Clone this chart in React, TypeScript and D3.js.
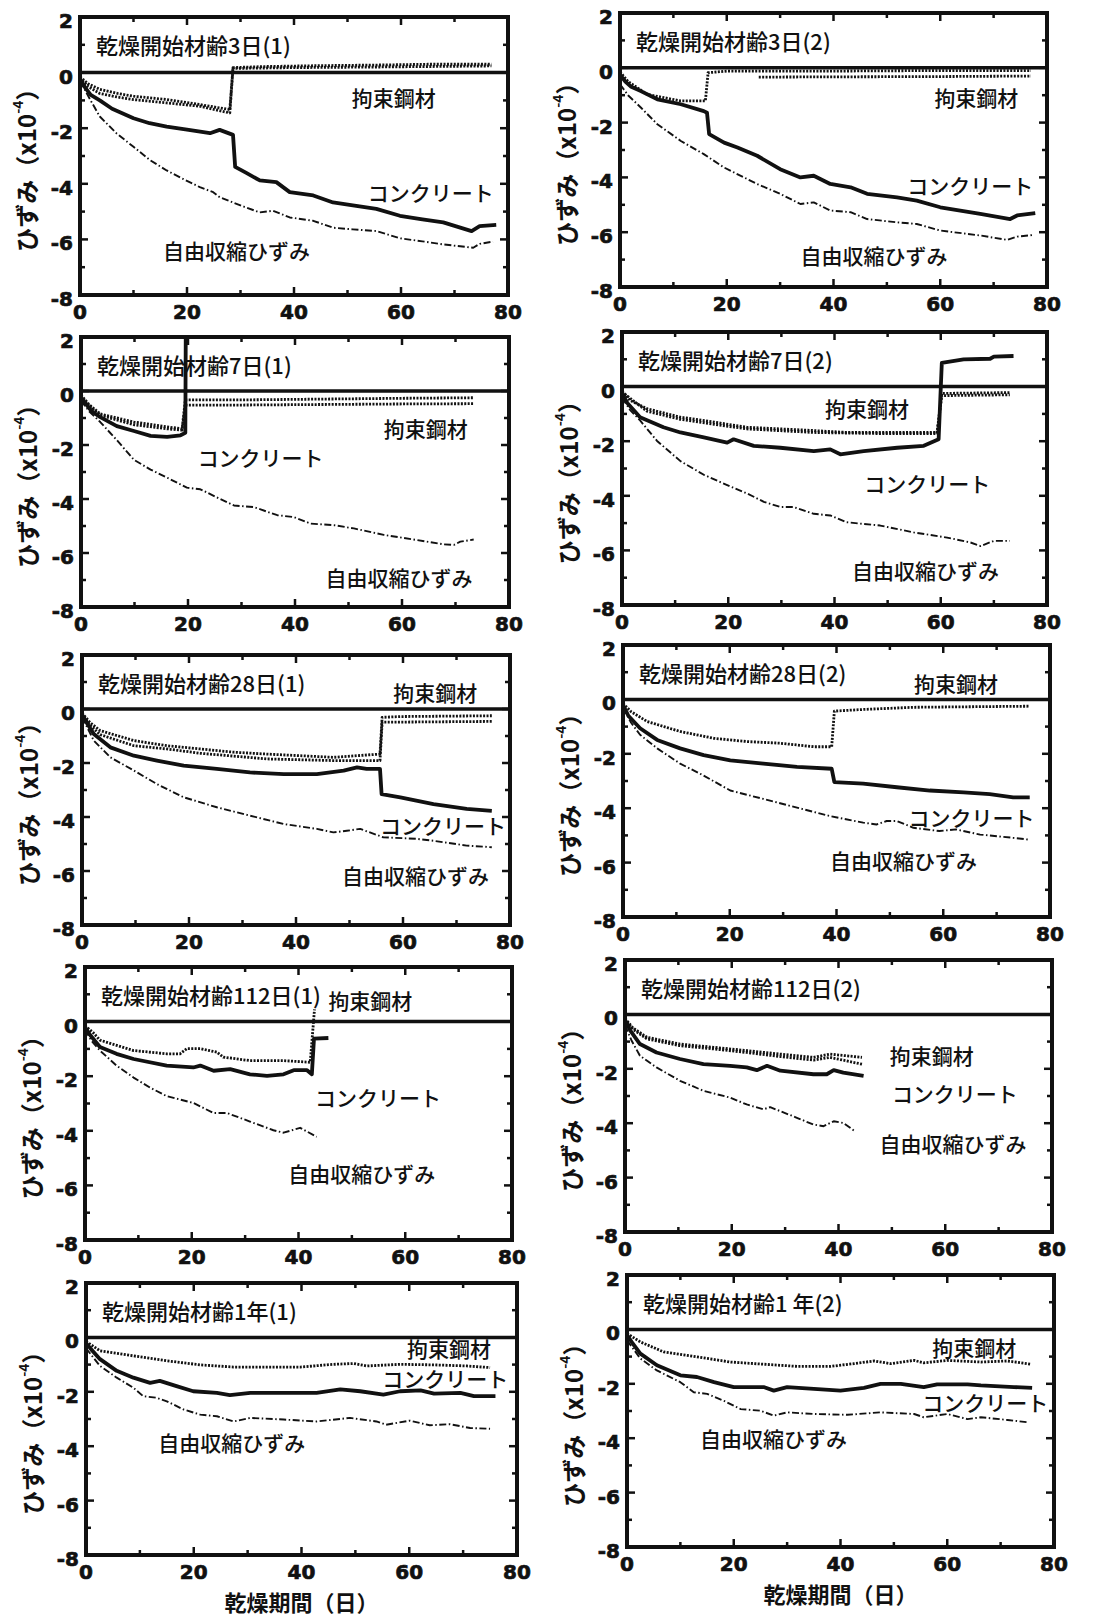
import * as d3 from 'd3';
import React from 'react';

type Pt = [number, number];

// ---- data (day, strain x10^-4) ----
const titles = [
  '乾燥開始材齢3日(1)', '乾燥開始材齢3日(2)',
  '乾燥開始材齢7日(1)', '乾燥開始材齢7日(2)',
  '乾燥開始材齢28日(1)', '乾燥開始材齢28日(2)',
  '乾燥開始材齢112日(1)', '乾燥開始材齢112日(2)',
  '乾燥開始材齢1年(1)', '乾燥開始材齢1 年(2)',
];
const seriesNames = ['拘束鋼材', 'コンクリート', '自由収縮ひずみ'];
const xTicks = [0, 20, 40, 60, 80];
const xMinor = [10, 30, 50, 70];
const yTicks = [-8, -6, -4, -2, 0, 2];
const yMinor = [-7, -5, -3, -1, 1];
const yLabel = 'ひずみ（x10';
const xLabel = '乾燥期間（日）';

// 3日(1)
const p1Concrete: Pt[] = [[0,-0.25],[1,-0.55],[2,-0.8],[3.7,-1.0],[6,-1.3],[10,-1.64],[13,-1.82],[16.2,-1.94],[20,-2.05],[24.3,-2.18],[26.1,-2.06],[28.6,-2.24],[29,-3.39],[31,-3.6],[33.6,-3.88],[36.7,-3.94],[39.2,-4.3],[43.6,-4.42],[47.3,-4.67],[51,-4.78],[55.4,-4.9],[59.8,-5.15],[64,-5.28],[67.9,-5.39],[73.2,-5.7],[74.7,-5.52],[77.8,-5.48]];
const p1Free: Pt[] = [[0,-0.3],[1.9,-0.97],[3.7,-1.58],[6.8,-2.18],[10,-2.67],[13.1,-3.15],[16.2,-3.52],[19,-3.8],[22.4,-4.12],[24.9,-4.3],[26.1,-4.48],[28.6,-4.67],[31,-4.85],[33.6,-5.03],[36.1,-4.97],[39.2,-5.21],[43.6,-5.33],[47.3,-5.58],[51,-5.64],[55.4,-5.7],[59.8,-5.96],[64,-6.07],[67.9,-6.18],[73.5,-6.3],[74.7,-6.16],[77.2,-6.08]];
const p1SteelA: Pt[] = [[0,-0.15],[1.5,-0.4],[3.7,-0.6],[7,-0.75],[10,-0.85],[16.2,-0.97],[22.4,-1.15],[28,-1.33],[28.6,0.18],[35,0.22],[45,0.25],[55,0.27],[65,0.3],[76.9,0.3]];
const p1SteelB: Pt[] = [[0,-0.2],[1.5,-0.5],[3.7,-0.75],[7,-0.88],[10,-0.97],[16.2,-1.09],[22.4,-1.21],[28,-1.45],[28.6,0.15],[40,0.18],[55,0.2],[76.9,0.24]];

// 3日(2)
const p2Concrete: Pt[] = [[0,-0.25],[1,-0.5],[2,-0.68],[3.9,-0.85],[7,-1.15],[11.4,-1.33],[15.7,-1.58],[16.3,-1.64],[16.7,-2.42],[19.5,-2.73],[22,-2.91],[25.7,-3.21],[30,-3.7],[33.8,-4.0],[36.3,-3.94],[39.4,-4.24],[43.2,-4.36],[46.3,-4.6],[51.9,-4.73],[55.6,-4.85],[60,-5.09],[67.5,-5.33],[73.1,-5.52],[74.4,-5.39],[77.8,-5.3]];
const p2Free: Pt[] = [[0,-0.6],[1.5,-1.0],[3.9,-1.45],[7,-2.06],[11.4,-2.67],[15.7,-3.15],[19.5,-3.64],[25.7,-4.24],[30,-4.6],[33.8,-4.97],[36.3,-4.91],[39.4,-5.21],[43.2,-5.27],[46.3,-5.52],[51.9,-5.64],[55.6,-5.7],[60,-5.94],[67.5,-6.12],[72.5,-6.28],[74.4,-6.16],[77.5,-6.1]];
const p2SteelA: Pt[] = [[0,-0.15],[1.5,-0.5],[5.1,-0.97],[11.4,-1.21],[16,-1.21],[16.5,-0.18],[20,-0.12],[26,-0.12],[40,-0.12],[60,-0.1],[77,-0.1]];
const p2SteelB: Pt[] = [[26,-0.34],[40,-0.33],[60,-0.32],[77,-0.3]];

// 7日(1)
const p3Concrete: Pt[] = [[0,-0.25],[1,-0.5],[2,-0.75],[3.6,-0.97],[6.7,-1.3],[9.9,-1.48],[13,-1.66],[16.1,-1.7],[18.6,-1.64],[19.5,-1.55],[19.6,3]];
const p3Free: Pt[] = [[0,-0.35],[1.5,-0.75],[3.6,-1.15],[6.7,-1.82],[9.9,-2.55],[13,-2.91],[16.1,-3.21],[19.8,-3.58],[22.3,-3.64],[25.4,-3.94],[28.6,-4.24],[32.3,-4.3],[36.7,-4.6],[39.8,-4.67],[42.9,-4.91],[47.3,-4.97],[51,-5.09],[56.6,-5.33],[62.8,-5.52],[67.8,-5.68],[69.7,-5.7],[70.9,-5.58],[73.4,-5.5]];
const p3SteelA: Pt[] = [[0,-0.15],[1.5,-0.5],[3.6,-0.85],[9.9,-1.15],[16.1,-1.33],[18.9,-1.4],[19.5,-0.33],[30,-0.33],[45,-0.3],[60,-0.27],[73.4,-0.25]];
const p3SteelB: Pt[] = [[0,-0.2],[1.5,-0.55],[3.6,-0.9],[9.9,-1.25],[16.1,-1.4],[18.9,-1.45],[19.5,-0.52],[30,-0.52],[45,-0.5],[60,-0.48],[73.4,-0.47]];

// 7日(2)
const p4Concrete: Pt[] = [[0,-0.25],[1,-0.6],[3.4,-1.12],[7.8,-1.49],[11,-1.68],[15.4,-1.86],[19.8,-2.05],[21,-1.93],[24.8,-2.17],[29.8,-2.24],[36.1,-2.36],[39.2,-2.3],[41.1,-2.48],[45.5,-2.36],[51.8,-2.24],[56.8,-2.17],[59.6,-1.93],[60.2,0.87],[64.3,1.0],[69.3,1.02],[70,1.1],[73.7,1.12]];
const p4Free: Pt[] = [[0,-0.4],[1.5,-0.85],[3.4,-1.24],[6.6,-1.99],[11,-2.73],[15.4,-3.23],[20.4,-3.66],[23.5,-3.91],[26.7,-4.22],[29.8,-4.41],[32.3,-4.41],[36.1,-4.66],[39.2,-4.72],[42.3,-4.97],[48.6,-5.09],[54.9,-5.34],[61.2,-5.53],[65.6,-5.71],[67.5,-5.84],[70,-5.65],[73,-5.65]];
const p4SteelA: Pt[] = [[0,-0.15],[1.5,-0.5],[4.7,-0.81],[11,-1.12],[17.3,-1.3],[23.5,-1.49],[29.8,-1.55],[36.1,-1.61],[42.3,-1.68],[48.6,-1.68],[59.3,-1.68],[60.2,-0.25],[73,-0.22]];
const p4SteelB: Pt[] = [[0,-0.2],[4.7,-0.9],[11,-1.2],[17.3,-1.38],[23.5,-1.55],[36.1,-1.68],[48.6,-1.72],[59.3,-1.72],[60.2,-0.33],[73,-0.3]];

// 28日(1)
const p5Concrete: Pt[] = [[0,-0.2],[1,-0.55],[2.2,-0.93],[5.3,-1.42],[9.7,-1.73],[14,-1.91],[19,-2.1],[25.2,-2.22],[31.4,-2.35],[37.7,-2.41],[43.9,-2.41],[48.9,-2.28],[51.4,-2.16],[53.2,-2.22],[55.7,-2.22],[56,-3.15],[59.5,-3.27],[65.7,-3.52],[71.9,-3.7],[76.6,-3.77]];
const p5Free: Pt[] = [[0,-0.3],[2.2,-1.17],[5.3,-1.79],[9.7,-2.28],[14,-2.78],[19,-3.27],[25.2,-3.64],[31.4,-3.95],[37.7,-4.26],[43.9,-4.44],[47,-4.57],[49.5,-4.51],[52,-4.44],[56.3,-4.75],[62.6,-4.81],[65.7,-4.88],[71.9,-5.06],[76.6,-5.12]];
const p5SteelA: Pt[] = [[0,-0.15],[1.5,-0.5],[3.4,-0.8],[9.7,-1.17],[15.9,-1.36],[22.1,-1.48],[28.3,-1.6],[34.6,-1.67],[40.8,-1.73],[47,-1.79],[55.7,-1.67],[56.1,-0.31],[59.5,-0.28],[76.6,-0.25]];
const p5SteelB: Pt[] = [[0,-0.2],[1.5,-0.6],[3.4,-0.95],[9.7,-1.36],[15.9,-1.48],[22.1,-1.64],[34.6,-1.85],[47,-1.91],[55.7,-1.91],[56.1,-0.49],[76.6,-0.46]];

// 28日(2)
const p6Concrete: Pt[] = [[0,-0.2],[1,-0.6],[3.2,-1.06],[6.4,-1.49],[10.7,-1.8],[15.1,-2.05],[20.1,-2.24],[26.3,-2.36],[32.6,-2.48],[39.1,-2.55],[39.6,-3.04],[45,-3.1],[51.3,-3.23],[57.5,-3.35],[63.8,-3.42],[68.7,-3.48],[73.1,-3.6],[76.2,-3.6]];
const p6Free: Pt[] = [[0,-0.3],[1.5,-0.85],[3.2,-1.3],[6.4,-1.8],[10.7,-2.36],[15.1,-2.8],[20.1,-3.35],[26.3,-3.66],[32.6,-3.98],[38.8,-4.29],[45,-4.53],[47.5,-4.6],[49.4,-4.47],[51.3,-4.47],[54.4,-4.72],[59.3,-4.84],[62.4,-4.78],[66.9,-4.97],[73.1,-5.09],[76.2,-5.16]];
const p6Steel: Pt[] = [[0,-0.15],[1.5,-0.45],[4.5,-0.81],[10.7,-1.18],[17,-1.43],[23.2,-1.55],[29.4,-1.61],[35.7,-1.74],[39.1,-1.74],[39.6,-0.43],[45,-0.37],[54.4,-0.29],[76.2,-0.25]];

// 112日(1)
const p7Concrete: Pt[] = [[0,-0.2],[1,-0.5],[2.8,-0.93],[5.9,-1.18],[9.1,-1.37],[15.3,-1.61],[20.3,-1.68],[21.6,-1.61],[24.1,-1.8],[27.2,-1.74],[30.9,-1.93],[34.1,-1.99],[37.2,-1.93],[39.1,-1.78],[41.6,-1.78],[42.5,-1.93],[42.9,-0.62],[45.6,-0.6]];
const p7Free: Pt[] = [[0,-0.3],[1.2,-0.7],[2.8,-1.06],[5.9,-1.61],[9.1,-2.05],[12.2,-2.42],[15.3,-2.73],[20.3,-2.98],[24.1,-3.35],[26.6,-3.35],[30.9,-3.66],[35.3,-3.98],[37.2,-4.07],[40.3,-3.89],[43.4,-4.22]];
const p7Steel: Pt[] = [[0,-0.15],[1.5,-0.4],[2.8,-0.68],[9.1,-1.06],[15.3,-1.18],[17.8,-1.18],[19.1,-0.99],[21.6,-0.99],[24.7,-1.12],[25.9,-1.3],[30.9,-1.43],[37.2,-1.43],[42.2,-1.49],[43,0.45]];

// 112日(2)
const p8Concrete: Pt[] = [[0,-0.2],[1,-0.6],[2.8,-1.09],[5.9,-1.4],[10.3,-1.64],[14.7,-1.83],[19.7,-1.89],[22.8,-1.95],[24.7,-2.05],[26.6,-1.89],[29.1,-2.07],[35.3,-2.2],[37.8,-2.2],[39.1,-2.05],[40.9,-2.14],[44.7,-2.26]];
const p8Free: Pt[] = [[0,-0.4],[1.2,-0.95],[2.8,-1.52],[5.9,-1.95],[10.3,-2.44],[14.7,-2.81],[19.7,-3.06],[22.8,-3.31],[25.9,-3.49],[27.2,-3.41],[32.2,-3.8],[35.3,-4.05],[37.2,-4.11],[39.1,-3.93],[40.9,-3.99],[43.1,-4.3]];
const p8SteelA: Pt[] = [[0,-0.15],[1.5,-0.5],[4.1,-0.84],[10.3,-1.09],[16.6,-1.21],[22.8,-1.33],[29.1,-1.46],[35.3,-1.58],[38.4,-1.46],[44.4,-1.58]];
const p8SteelB: Pt[] = [[0,-0.2],[1.5,-0.55],[4.1,-0.9],[10.3,-1.15],[16.6,-1.27],[22.8,-1.4],[29.1,-1.55],[35.3,-1.68],[38.4,-1.58],[44.4,-1.83]];

// 1年(1)
const p9Concrete: Pt[] = [[0,-0.2],[1,-0.45],[2.6,-0.8],[5.7,-1.23],[8.8,-1.48],[11.9,-1.67],[13.7,-1.6],[16.8,-1.79],[19.9,-1.98],[24.3,-2.04],[26.7,-2.12],[30.5,-2.04],[36.7,-2.04],[42.8,-2.04],[47.2,-1.91],[50.9,-1.98],[55.2,-2.1],[58.3,-1.98],[62.1,-1.95],[64.6,-2.07],[69.5,-2.04],[72,-2.16],[76,-2.16]];
const p9Free: Pt[] = [[0,-0.4],[2.6,-1.05],[5.7,-1.48],[8.8,-1.85],[10.6,-2.16],[13.1,-2.22],[15,-2.35],[18.1,-2.65],[21.2,-2.84],[24.3,-2.9],[27.4,-3.09],[30.5,-2.96],[36.7,-3.02],[42.8,-3.09],[49,-2.96],[53.9,-3.09],[55.7,-3.21],[60.1,-3.06],[63.8,-3.23],[67.5,-3.19],[71.3,-3.33],[75,-3.36]];
const p9Steel: Pt[] = [[0,-0.15],[2.6,-0.49],[8.8,-0.68],[15,-0.86],[21.2,-1.01],[27.4,-1.09],[33.6,-1.09],[39.8,-1.09],[45.9,-0.99],[49.7,-0.96],[52.1,-1.05],[58.3,-0.99],[64.6,-1.01],[70.7,-1.05],[75,-1.11]];

// 1年(2)
const p10Concrete: Pt[] = [[0,-0.2],[1,-0.5],[2.5,-0.89],[5.6,-1.32],[10,-1.69],[13.1,-1.75],[16.3,-1.94],[20,-2.12],[25.6,-2.12],[27.5,-2.25],[30,-2.12],[35,-2.19],[40,-2.25],[44.4,-2.15],[47.5,-2.0],[51.3,-2.0],[55.6,-2.12],[58.1,-2.02],[63.8,-2.02],[66.3,-2.06],[72.5,-2.12],[75.9,-2.15]];
const p10Free: Pt[] = [[0,-0.4],[2.5,-1.07],[5.6,-1.51],[10,-1.94],[12.5,-2.31],[15,-2.37],[18.1,-2.62],[21.3,-2.93],[25,-2.99],[27.5,-3.17],[30,-3.05],[35,-3.11],[41.3,-3.14],[47.5,-3.05],[53.8,-3.11],[55.6,-3.23],[60,-3.11],[63.8,-3.3],[66.3,-3.23],[71.3,-3.33],[75.3,-3.42]];
const p10Steel: Pt[] = [[0,-0.15],[2.5,-0.46],[6.9,-0.83],[13.1,-1.01],[19.4,-1.2],[25.6,-1.28],[31.9,-1.36],[38.1,-1.36],[42.5,-1.26],[46.3,-1.16],[49.4,-1.26],[53.8,-1.14],[55.6,-1.23],[60,-1.14],[66.3,-1.2],[71.3,-1.16],[75.6,-1.28]];

// label anchors (day, strain) for [steel, concrete, free]
const labelAnchors: Pt[][] = [
  [[50.8, -0.88], [53.8, -4.29], [15.5, -6.38]],
  [[58.9, -1.07], [53.8, -4.28], [33.8, -6.83]],
  [[56.6, -1.37], [21.8, -2.44], [45.7, -6.89]],
  [[38.2, -0.79], [45.6, -3.54], [43.3, -6.73]],
  [[58.2, 0.63], [55.7, -4.3], [48.6, -6.15]],
  [[54.5, 0.6], [53.5, -4.32], [38.8, -5.9]],
  [[45.6, 0.78], [43.1, -2.77], [38.1, -5.56]],
  [[49.6, -1.49], [50.0, -2.89], [47.7, -4.73]],
  [[59.6, -0.38], [55.0, -1.48], [13.4, -3.83]],
  [[57.2, -0.65], [55.3, -2.67], [13.7, -3.99]],
];

const panelSeries = [
  { concrete: p1Concrete, free: p1Free, steel: [p1SteelA, p1SteelB] },
  { concrete: p2Concrete, free: p2Free, steel: [p2SteelA, p2SteelB] },
  { concrete: p3Concrete, free: p3Free, steel: [p3SteelA, p3SteelB] },
  { concrete: p4Concrete, free: p4Free, steel: [p4SteelA, p4SteelB] },
  { concrete: p5Concrete, free: p5Free, steel: [p5SteelA, p5SteelB] },
  { concrete: p6Concrete, free: p6Free, steel: [p6Steel] },
  { concrete: p7Concrete, free: p7Free, steel: [p7Steel] },
  { concrete: p8Concrete, free: p8Free, steel: [p8SteelA, p8SteelB] },
  { concrete: p9Concrete, free: p9Free, steel: [p9Steel] },
  { concrete: p10Concrete, free: p10Free, steel: [p10Steel] },
];

// frame positions [left, top, width, height] in px
const frames = [
  [80, 17, 428, 278], [620, 13, 427, 274],
  [81, 337, 428, 270], [622, 332, 425, 273],
  [82, 655, 428, 270], [623, 645, 427, 272],
  [85, 967, 427, 273], [625, 960, 427, 272],
  [86, 1283, 431, 272], [627, 1275, 427, 272],
];

const JP = '"Noto Sans CJK JP", "Noto Sans", sans-serif';
const NUM = '"DejaVu Sans", "Liberation Sans", sans-serif';
const INK = '#111';

const Panel: React.FC<{ i: number }> = ({ i }) => {
  const [left, top, w, h] = frames[i];
  const x = d3.scaleLinear().domain([0, 80]).range([left, left + w]);
  const y = d3.scaleLinear().domain([-8, 2]).range([top + h, top]);
  const line = d3.line<Pt>().x((d) => x(d[0])).y((d) => y(d[1]));
  const s = panelSeries[i];
  const clipId = `clip${i}`;
  const bottomRow = i >= 8;

  return (
    <g>
      <clipPath id={clipId}>
        <rect x={left} y={top} width={w} height={h} />
      </clipPath>
      <g clipPath={`url(#${clipId})`} fill="none" stroke={INK} strokeLinejoin="round">
        <line x1={left} x2={left + w} y1={y(0)} y2={y(0)} strokeWidth={3.5} />
        {s.steel.map((d, k) => (
          <path key={k} d={line(d) || ''} strokeWidth={2.8} strokeDasharray="2 1.4" />
        ))}
        <path d={line(s.free) || ''} strokeWidth={1.9} strokeDasharray="7 2.5 1.5 2.5" />
        <path d={line(s.concrete) || ''} strokeWidth={3.8} />
      </g>
      {/* ticks, inward on all sides */}
      <g stroke={INK} strokeWidth={2.5}>
        {xTicks.concat(xMinor).map((t) => {
          const len = xTicks.includes(t) ? 8 : 5;
          return (
            <g key={`x${t}`}>
              <line x1={x(t)} x2={x(t)} y1={top + h} y2={top + h - len} />
              <line x1={x(t)} x2={x(t)} y1={top} y2={top + len} />
            </g>
          );
        })}
        {yTicks.concat(yMinor).map((t) => {
          const len = yTicks.includes(t) ? 8 : 5;
          return (
            <g key={`y${t}`}>
              <line x1={left} x2={left + len} y1={y(t)} y2={y(t)} />
              <line x1={left + w} x2={left + w - len} y1={y(t)} y2={y(t)} />
            </g>
          );
        })}
      </g>
      <rect x={left} y={top} width={w} height={h} fill="none" stroke={INK} strokeWidth={4} />
      {/* tick labels */}
      <g fontFamily={NUM} fontWeight="bold" fontSize={20} fill={INK} stroke={INK} strokeWidth={0.7}>
        {xTicks.map((t) => (
          <text key={t} x={x(t)} y={top + h + 24} textAnchor="middle">{t}</text>
        ))}
        {yTicks.map((t) => (
          <text key={t} x={left - 7} y={y(t) + 4} textAnchor="end" dominantBaseline="central">{t}</text>
        ))}
      </g>
      {/* y label */}
      <text
        transform={`translate(${left - 55},${top + h / 2 + 8}) rotate(-90)`}
        textAnchor="middle"
        dominantBaseline="central"
        fontFamily={JP}
        fontWeight={700}
        fontSize={24}
        fill={INK}
      >
        {yLabel}
        <tspan dy={-8} fontSize={14}>-4</tspan>
        <tspan dy={8}>）</tspan>
      </text>
      {/* title and series labels */}
      <g fontFamily={JP} fontWeight={500} fontSize={21} fill={INK}>
        <text x={left + 16} y={top + 27} dominantBaseline="central" fontSize={22}>{titles[i]}</text>
        {labelAnchors[i].map((a, k) => (
          <text key={k} x={x(a[0])} y={y(a[1])} dominantBaseline="central">{seriesNames[k]}</text>
        ))}
      </g>
      {bottomRow && (
        <text
          x={left + w / 2}
          y={top + h + 46}
          textAnchor="middle"
          dominantBaseline="central"
          fontFamily={JP}
          fontWeight={700}
          fontSize={22}
          fill={INK}
        >
          {xLabel}
        </text>
      )}
    </g>
  );
};

const App: React.FC = () => {
  return (
    <div style={{ position: 'absolute', left: 0, top: 0, background: '#fff' }}>
      <svg width={1094} height={1616} style={{ display: 'block' }}>
        <rect width={1094} height={1616} fill="#fff" />
        {frames.map((_, i) => (
          <Panel key={i} i={i} />
        ))}
      </svg>
    </div>
  );
};

export default App;
